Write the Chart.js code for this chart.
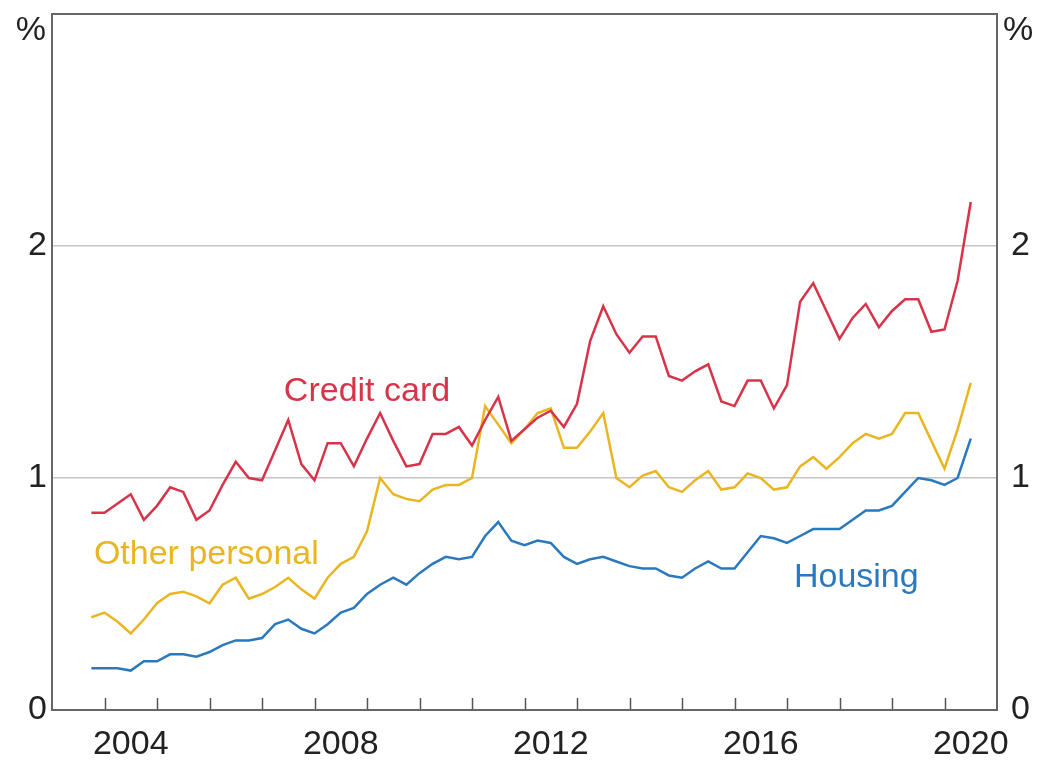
<!DOCTYPE html>
<html>
<head>
<meta charset="utf-8">
<script src="https://cdn.jsdelivr.net/npm/chart.js@4"></script>
<style>
  html, body { margin: 0; padding: 0; background: #fff; }
  #wrap { width: 1038px; height: 761px; }
</style>
</head>
<body>
<div id="wrap"><canvas id="chart" width="1038" height="761"></canvas></div>
<script>
// quarterly, Sep 2003 to Jun 2020 (68 quarters)
const firstQuarter = 2003.75
const creditCard = [0.85,0.85,0.89,0.93,0.82,0.88,0.96,0.94,0.82,0.86,0.97,1.07,1.00,0.99,1.12,1.25,
  1.06,0.99,1.15,1.15,1.05,1.17,1.28,1.16,1.05,1.06,1.19,1.19,1.22,1.14,1.25,1.35,
  1.16,1.21,1.26,1.29,1.22,1.32,1.59,1.74,1.62,1.54,1.61,1.61,1.44,1.42,1.46,1.49,
  1.33,1.31,1.42,1.42,1.30,1.40,1.76,1.84,1.72,1.60,1.69,1.75,1.65,1.72,1.77,1.77,
  1.63,1.64,1.85,2.19]
const otherPersonal = [0.40,0.42,0.38,0.33,0.39,0.46,0.50,0.51,0.49,0.46,0.54,0.57,0.48,0.50,0.53,0.57,
  0.52,0.48,0.57,0.63,0.66,0.77,1.00,0.93,0.91,0.90,0.95,0.97,0.97,1.00,1.31,1.23,
  1.15,1.21,1.28,1.30,1.13,1.13,1.20,1.28,1.00,0.96,1.01,1.03,0.96,0.94,0.99,1.03,
  0.95,0.96,1.02,1.00,0.95,0.96,1.05,1.09,1.04,1.09,1.15,1.19,1.17,1.19,1.28,1.28,
  1.16,1.04,1.21,1.41]
const housing = [0.18,0.18,0.18,0.17,0.21,0.21,0.24,0.24,0.23,0.25,0.28,0.30,0.30,0.31,0.37,0.39,
  0.35,0.33,0.37,0.42,0.44,0.50,0.54,0.57,0.54,0.59,0.63,0.66,0.65,0.66,0.75,0.81,
  0.73,0.71,0.73,0.72,0.66,0.63,0.65,0.66,0.64,0.62,0.61,0.61,0.58,0.57,0.61,0.64,
  0.61,0.61,0.68,0.75,0.74,0.72,0.75,0.78,0.78,0.78,0.82,0.86,0.86,0.88,0.94,1.00,
  0.99,0.97,1.00,1.17]

const xLabelYears = [2004,2008,2012,2016,2020]
const yTicks = [0,1,2]
const seriesNames = ["Credit card","Other personal","Housing"]
const seriesColors = ["#d7344a","#e9b622","#2a79bf"]
// where the series names sit: [year, value at text baseline]
const labelSpots = [[2009.0,1.33],[2005.94,0.63],[2018.32,0.53]]

const FONT = "'Liberation Sans', Arial, sans-serif"

function toPoints(arr){
  return arr.map((v,i)=>({x:firstQuarter+i*0.25,y:v}))
}

const frame = {
  id:"frame",
  afterDraw(chart){
    const {ctx, chartArea:a, scales} = chart
    const x = scales.x
    ctx.save()
    // inward year ticks
    ctx.strokeStyle = "#555"
    ctx.lineWidth = 1.5
    for(let yr=2004; yr<=2020; yr++){
      const px = Math.round(x.getPixelForValue(yr))+0.5
      ctx.beginPath()
      ctx.moveTo(px,a.bottom)
      ctx.lineTo(px,a.bottom-12)
      ctx.stroke()
    }
    // box
    ctx.strokeStyle = "#666"
    ctx.lineWidth = 2
    ctx.strokeRect(a.left,a.top,a.right-a.left,a.bottom-a.top)
    // unit labels
    ctx.fillStyle = "#222"
    ctx.font = "34px "+FONT
    ctx.textBaseline = "alphabetic"
    ctx.textAlign = "right"
    ctx.fillText("%",a.left-6,a.top+26)
    ctx.textAlign = "left"
    ctx.fillText("%",a.right+6,a.top+26)
    // series names
    ctx.textAlign = "center"
    seriesNames.forEach((name,i)=>{
      ctx.fillStyle = seriesColors[i]
      ctx.fillText(name,x.getPixelForValue(labelSpots[i][0]),scales.y.getPixelForValue(labelSpots[i][1]))
    })
    ctx.restore()
  }
}

function fitY(w){
  return s=>{ s.width = w; s.paddingTop = 0; s.paddingBottom = 0 }
}

new Chart(document.getElementById("chart"),{
  type:"line",
  data:{
    datasets:[
      {label:seriesNames[0],data:toPoints(creditCard),borderColor:seriesColors[0]},
      {label:seriesNames[1],data:toPoints(otherPersonal),borderColor:seriesColors[1]},
      {label:seriesNames[2],data:toPoints(housing),borderColor:seriesColors[2]}
    ]
  },
  options:{
    responsive:false,
    animation:false,
    layout:{padding:{top:14}},
    elements:{
      point:{radius:0},
      line:{borderWidth:2.5,tension:0}
    },
    plugins:{legend:{display:false},tooltip:{enabled:false}},
    scales:{
      x:{
        type:"linear",
        min:2003,max:2021,
        grid:{display:false},
        border:{display:false},
        afterBuildTicks(s){ s.ticks = xLabelYears.map(v=>({value:v+0.5})) },
        afterFit(s){ s.height = 51; s.paddingLeft = 0; s.paddingRight = 0 },
        ticks:{
          autoSkip:false,maxRotation:0,padding:6,
          color:"#222",font:{size:34,family:FONT},
          callback:v=>String(Math.floor(v))
        }
      },
      y:{
        position:"left",
        min:0,max:3,
        afterBuildTicks(s){ s.ticks = yTicks.map(v=>({value:v})) },
        afterFit:fitY(52),
        border:{display:false},
        grid:{
          drawTicks:false,
          lineWidth:1.5,
          color:c=>(c.tick && c.tick.value>0)?"#c4c4c4":"rgba(0,0,0,0)"
        },
        ticks:{
          padding:5,color:"#222",font:{size:34,family:FONT}
        }
      },
      y2:{
        position:"right",
        min:0,max:3,
        afterBuildTicks(s){ s.ticks = yTicks.map(v=>({value:v})) },
        afterFit:fitY(41),
        border:{display:false},
        grid:{display:false},
        ticks:{
          padding:6,color:"#222",font:{size:34,family:FONT}
        }
      }
    }
  },
  plugins:[frame]
})
</script>
</body>
</html>
